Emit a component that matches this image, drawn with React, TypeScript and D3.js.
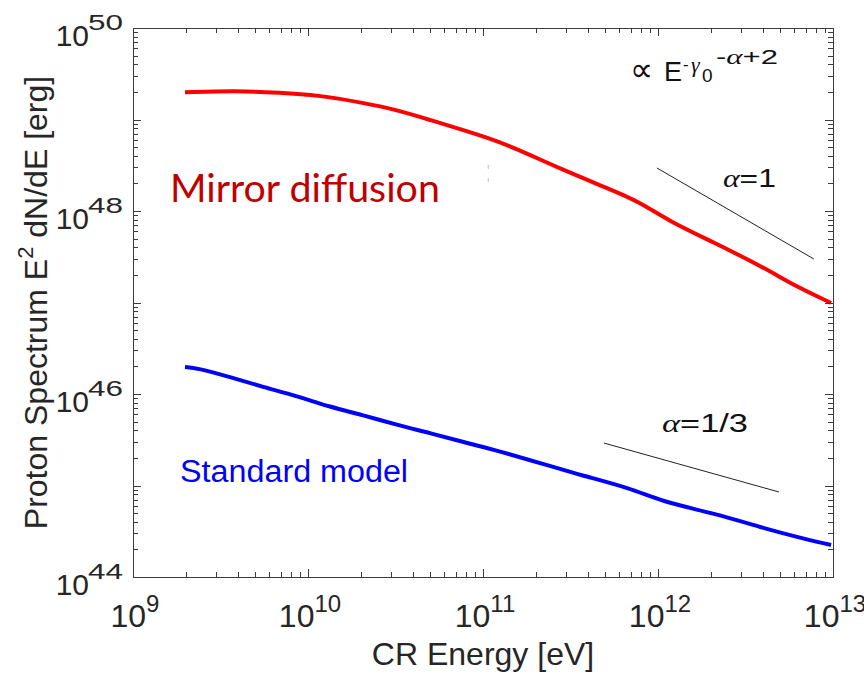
import * as d3 from "d3";

const width = 864;
const height = 675;
const margin = { top: 28, right: 31, bottom: 98, left: 133 };

// log10 E [eV] and log10 E^2 dN/dE [erg]
const mirrorLogE = [9.297, 9.594, 9.84, 10.051, 10.314, 10.509, 10.697, 10.886, 11.029, 11.171, 11.457, 11.709, 11.897, 12.051, 12.314, 12.6, 12.794, 12.989];
const mirrorLogS = [49.297, 49.315, 49.293, 49.268, 49.184, 49.104, 48.995, 48.885, 48.798, 48.699, 48.448, 48.251, 48.098, 47.902, 47.661, 47.388, 47.169, 46.995];

const standardLogE = [9.297, 9.366, 9.554, 9.743, 9.937, 10.126, 10.314, 10.509, 10.697, 10.886, 11.029, 11.366, 11.554, 11.84, 12.029, 12.314, 12.6, 12.794, 12.989];
const standardLogS = [46.295, 46.284, 46.186, 46.077, 45.978, 45.858, 45.77, 45.661, 45.574, 45.475, 45.41, 45.224, 45.115, 44.973, 44.82, 44.699, 44.536, 44.437, 44.35];

// reference slopes (log E, log S)
const guideAlpha1 = [[11.994, 48.47], [12.891, 47.475]];
const guideAlpha13 = [[11.691, 45.464], [12.691, 44.929]];

const xDecades = [9, 10, 11, 12, 13];
const yDecades = [44, 45, 46, 47, 48, 49, 50];
const yLabelExps = [44, 46, 48, 50];

const font = "'Liberation Sans', Arial, Helvetica, sans-serif";
const serif = "'Liberation Serif', 'Times New Roman', serif";
const axisColor = "#3c3c3c";
const textColor = "#262626";

// all k*10^d ticks between the first and last decade
function logTicks(decades: number[]) {
  const out: { v: number; major: boolean }[] = [];
  const last = decades[decades.length - 1];
  decades.forEach(d => {
    for (let k = 1; k <= 9; k++) {
      if (d === last && k > 1) break;
      out.push({ v: k * Math.pow(10, d), major: k === 1 });
    }
  });
  return out;
}

export default function App() {
  const x = d3.scaleLog().domain([1e9, 1e13]).range([margin.left, width - margin.right]);
  const y = d3.scaleLog().domain([1e44, 1e50]).range([height - margin.bottom, margin.top]);
  const px = (l: number) => x(Math.pow(10, l));
  const py = (l: number) => y(Math.pow(10, l));

  const line = d3.line<[number, number]>().x(d => px(d[0])).y(d => py(d[1])).curve(d3.curveBasis);
  const mirror = mirrorLogE.map((e, i) => [e, mirrorLogS[i]] as [number, number]);
  const standard = standardLogE.map((e, i) => [e, standardLogS[i]] as [number, number]);

  const x0 = margin.left, x1 = width - margin.right;
  const y0 = margin.top, y1 = height - margin.bottom;
  const tl = (m: boolean) => (m ? 8 : 5);

  let tickPath = "";
  logTicks(xDecades).forEach(t => {
    const v = Math.round(x(t.v)) + 0.5;
    tickPath += `M${v},${y1}V${y1 - tl(t.major)}M${v},${y0}V${y0 + tl(t.major)}`;
  });
  logTicks(yDecades).forEach(t => {
    const v = Math.round(y(t.v)) + 0.5;
    tickPath += `M${x0},${v}H${x0 + tl(t.major)}M${x1},${v}H${x1 - tl(t.major)}`;
  });

  // annotation anchor (baseline of "∝ E")
  const ax = px(11.84), ay = py(49.421);

  return (
    <div style={{ position: "absolute", left: 0, top: 0 }}>
      <svg width={width} height={height} style={{ display: "block", background: "#fff" }}>
        {/* curves */}
        <path d={line(mirror) || ""} fill="none" stroke="#ff0000" strokeWidth={4} strokeLinejoin="round" />
        <path d={line(standard) || ""} fill="none" stroke="#0000ff" strokeWidth={4} strokeLinejoin="round" />

        {/* slope guides */}
        {[guideAlpha1, guideAlpha13].map((g, i) => (
          <line key={i} x1={px(g[0][0])} y1={py(g[0][1])} x2={px(g[1][0])} y2={py(g[1][1])} stroke="#222" strokeWidth={1} />
        ))}

        {/* stray mark */}
        <line x1={px(11.03)} y1={py(48.503)} x2={px(11.03)} y2={py(48.306)} stroke="#f6a6a6" strokeWidth={1} strokeDasharray="4,9" />

        {/* box and ticks */}
        <rect x={x0 + 0.5} y={y0 + 0.5} width={x1 - x0} height={y1 - y0} fill="none" stroke={axisColor} strokeWidth={1} shapeRendering="crispEdges" />
        <path d={tickPath} fill="none" stroke={axisColor} strokeWidth={1} shapeRendering="crispEdges" />

        {/* tick labels */}
        {xDecades.map(d => (
          <text key={"xl" + d} x={x(Math.pow(10, d)) + 2} y={627} textAnchor="middle" fontFamily={font} fontSize={32} fill={textColor}>
            10<tspan dy={-15} fontSize={24}>{d}</tspan>
          </text>
        ))}
        {yLabelExps.map(d => (
          <g key={"yl" + d} fontFamily={font} fill={textColor}>
            <text x={x0 - 44} y={y(Math.pow(10, d)) + 18} textAnchor="end" fontSize={30}>10</text>
            <text x={x0 - 45} y={y(Math.pow(10, d)) + 2} fontSize={22} textLength={35} lengthAdjust="spacingAndGlyphs">{d}</text>
          </g>
        ))}

        {/* axis titles */}
        <text x={(x0 + x1) / 2} y={665} textAnchor="middle" fontFamily={font} fontSize={32} fill={textColor}>
          CR Energy [eV]
        </text>
        <text transform={`translate(47,${(y0 + y1) / 2}) rotate(-90)`} textAnchor="middle" fontFamily={font} fontSize={32} fill={textColor}>
          Proton Spectrum E<tspan dy={-14} fontSize={22}>2</tspan><tspan dy={14}> dN/dE [erg]</tspan>
        </text>

        {/* series labels */}
        <text x={px(9.211)} y={py(48.098)} fontFamily="Lato, 'Open Sans', sans-serif" fontSize={38} fill="#c00000" textLength={270} lengthAdjust="spacingAndGlyphs">
          Mirror diffusion
        </text>
        <text x={px(9.269)} y={py(45.038)} fontFamily={font} fontSize={31} fill="#0000ff" textLength={228} lengthAdjust="spacingAndGlyphs">
          Standard model
        </text>

        {/* proportionality annotation */}
        <g fontFamily={font} fill="#111">
          <text x={ax} y={ay} fontSize={34} fontFamily="'DejaVu Sans', sans-serif" textLength={23} lengthAdjust="spacingAndGlyphs">{"\u221D"}</text>
          <text x={ax + 34} y={ay} fontSize={27}>E</text>
          <text x={ax + 53} y={ay - 11} fontSize={17}>-</text>
          <text x={ax + 61} y={ay - 9} fontSize={22} fontFamily={serif} fontStyle="italic">{"\u03B3"}</text>
          <text x={ax + 72} y={ay + 1} fontSize={19}>0</text>
          <text x={ax + 86} y={ay - 17} fontSize={20} textLength={62} lengthAdjust="spacingAndGlyphs">
            -<tspan fontFamily={serif} fontStyle="italic">{"\u03B1"}</tspan>+2
          </text>
        </g>

        <text x={px(12.371)} y={py(48.262)} fontFamily={font} fontSize={25} fill="#111" textLength={53} lengthAdjust="spacingAndGlyphs">
          <tspan fontFamily={serif} fontStyle="italic">{"\u03B1"}</tspan>=1
        </text>
        <text x={px(12.023)} y={py(45.585)} fontFamily={font} fontSize={25} fill="#111" textLength={86} lengthAdjust="spacingAndGlyphs">
          <tspan fontFamily={serif} fontStyle="italic">{"\u03B1"}</tspan>=1/3
        </text>
      </svg>
    </div>
  );
}
